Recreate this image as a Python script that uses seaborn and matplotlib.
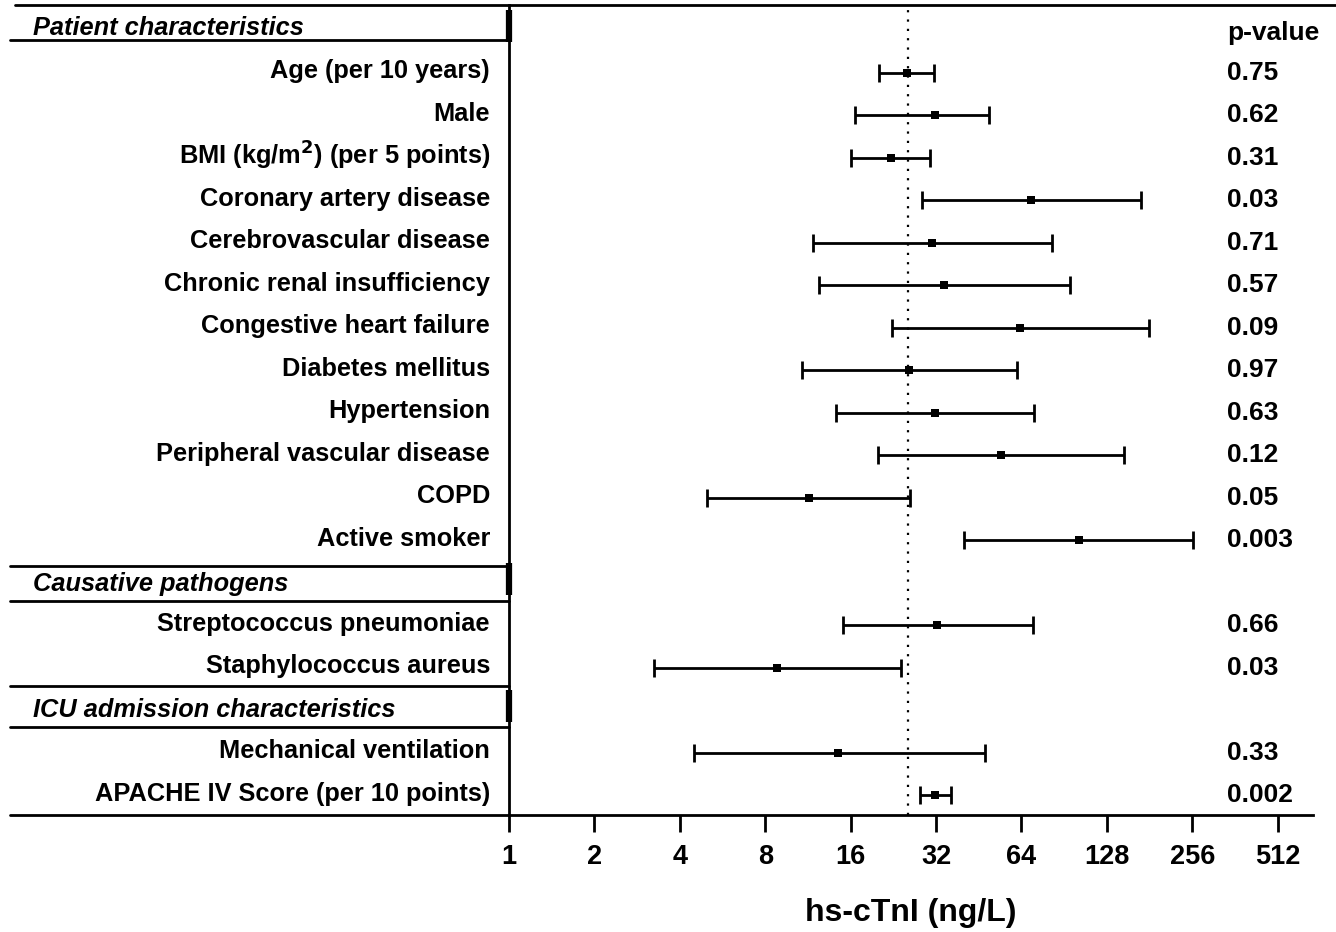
import numpy as np
import pandas as pd
import matplotlib
matplotlib.use("Agg")
import matplotlib.pyplot as plt
import matplotlib.transforms as mtransforms
import seaborn as sns

# ---------------- data ----------------
groups = ["Patient characteristics", "Causative pathogens", "ICU admission characteristics"]
patient_labels = ["Age (per 10 years)", "Male", r"BMI (kg/m$^\mathbf{2}$) (per 5 points)",
                  "Coronary artery disease", "Cerebrovascular disease", "Chronic renal insufficiency",
                  "Congestive heart failure", "Diabetes mellitus", "Hypertension",
                  "Peripheral vascular disease", "COPD", "Active smoker"]
pathogen_labels = ["Streptococcus pneumoniae", "Staphylococcus aureus"]
icu_labels = ["Mechanical ventilation", "APACHE IV Score (per 10 points)"]

estimate = [25.3, 31.7, 22.2, 69.2, 31.0, 34.1, 63.3, 25.7, 31.7, 54.2, 11.4, 102.0,
            32.3, 8.8,
            14.4, 31.7]
ci_low = [20.2, 16.6, 16.0, 28.6, 11.8, 12.4, 22.4, 10.8, 14.2, 20.0, 5.0, 40.2,
          15.0, 3.24,
          4.5, 28.1]
ci_high = [31.5, 49.2, 30.5, 169.0, 82.0, 95.0, 180.0, 61.8, 70.9, 147.0, 25.9, 258.0,
           70.3, 24.1,
           47.6, 36.2]
p_values = ["0.75", "0.62", "0.31", "0.03", "0.71", "0.57", "0.09", "0.97", "0.63", "0.12", "0.05", "0.003",
            "0.66", "0.03",
            "0.33", "0.002"]
reference_value = 25.5
x_ticks = [1, 2, 4, 8, 16, 32, 64, 128, 256, 512]
x_label = "hs-cTnI (ng/L)"

# ---------------- layout rows ----------------
row_y = []
header_y = []
i = 0
for g, labs in zip(groups, [patient_labels, pathogen_labels, icu_labels]):
    header_y.append(i)
    i += 1
    for _ in labs:
        row_y.append(i)
        i += 1
all_labels = patient_labels + pathogen_labels + icu_labels

df = pd.DataFrame({"label": all_labels, "y": row_y, "est": estimate,
                   "lo": ci_low, "hi": ci_high, "p": p_values})

sns.set_theme(style="white")
plt.rcParams["font.family"] = ["Liberation Sans", "DejaVu Sans"]
plt.rcParams["text.color"] = "black"
plt.rcParams["axes.labelcolor"] = "black"
plt.rcParams["xtick.color"] = "black"
plt.rcParams["ytick.color"] = "black"
narrow = ["Liberation Sans", "DejaVu Sans"]

W, H = 1336, 932
fig = plt.figure(figsize=(W / 100, H / 100), dpi=100)
ax = fig.add_axes([509 / W, 1 - 815 / H, (1313 - 509) / W, (815 - 5) / H])

ax.set_xscale("log", base=2)
ax.set_xlim(1, 682)
ax.set_ylim(18.46, -0.6)

# dotted reference line
ax.axvline(reference_value, color="black", ls=(0, (1, 3.2)), lw=1.6, zorder=1)

# CI bars
ax.errorbar(df["est"], df["y"], xerr=[df["est"] - df["lo"], df["hi"] - df["est"]],
            fmt="none", ecolor="black", elinewidth=2.0, capsize=6.5, capthick=2.0, zorder=2)
sns.scatterplot(data=df, x="est", y="y", marker="s", s=30, color="black",
                edgecolor="black", linewidth=0, ax=ax, zorder=3, legend=False)

# spines & ticks
for s in ["top", "right"]:
    ax.spines[s].set_visible(False)
ax.spines["left"].set_linewidth(2.0)
ax.spines["bottom"].set_linewidth(2.0)
ax.spines["left"].set_color("black")
ax.spines["bottom"].set_color("black")
ax.set_xticks(x_ticks)
ax.set_xticklabels([str(t) for t in x_ticks], fontfamily=narrow, fontweight="bold", fontsize=19.5)
ax.xaxis.set_minor_locator(matplotlib.ticker.NullLocator())
ax.tick_params(axis="x", direction="out", length=12, width=2, color="black", pad=9, bottom=True,
               labelcolor="black")
ax.set_yticks([])
ax.set_xlabel(x_label, fontsize=23, fontweight="bold", labelpad=20, color="black")
ax.set_ylabel("")

trans = mtransforms.blended_transform_factory(fig.transFigure, ax.transData)
xL = 10 / W
xA = 509 / W

# top line across the full figure
ax.plot([15 / W, 1.0], [-0.6, -0.6], color="black", lw=2, transform=trans, clip_on=False)
# bottom line extension to the left
ax.plot([xL, xA], [18.46, 18.46], color="black", lw=2, transform=trans, clip_on=False)

# header separators and titles
sep = [(None, 0.22), (12.6, 13.42), (15.42, 16.38)]
head_off = [-0.06, 0.03, -0.02]
for hy, g, (a, b), off in zip(header_y, groups, sep, head_off):
    for yy in (a, b):
        if yy is not None:
            ax.plot([xL, xA], [yy, yy], color="black", lw=2, transform=trans, clip_on=False)
    ax.plot([xA, xA], [hy - 0.48, hy + 0.28], color="black", lw=4.5, transform=trans,
            clip_on=False, solid_capstyle="butt")
    ax.text(33 / W, hy + off, g, transform=trans, fontsize=18.3, fontweight="bold",
            fontstyle="italic", ha="left", va="center")

# row labels and p-values
for _, r in df.iterrows():
    ax.text(490 / W, r["y"] - 0.04, r["label"], transform=trans, fontsize=18.3,
            fontweight="bold", ha="right", va="center")
    ax.text(1227 / W, r["y"], r["p"], transform=trans, fontsize=19,
            fontweight="bold", fontfamily=narrow, ha="left", va="center")
ax.text(1227 / W, header_y[0] + 0.05, "p-value", transform=trans, fontsize=19,
        fontweight="bold", fontfamily=narrow, ha="left", va="center")

fig.savefig("out.png", dpi=100, facecolor="white")
